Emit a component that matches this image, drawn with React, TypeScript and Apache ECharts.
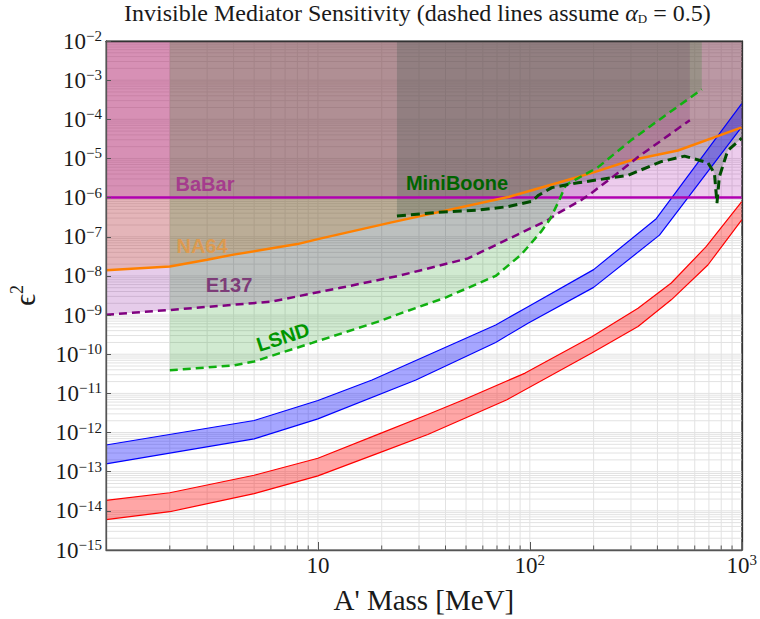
import React, { useEffect, useRef } from "react";
import * as echarts from "echarts";

const X_MIN = 1;
const X_MAX = 1000;
const Y_MIN = 1e-15;
const Y_MAX = 1e-2;

const titleText = "Invisible Mediator Sensitivity (dashed lines assume {a|α}{d|D} = 0.5)";
const xAxisName = "A' Mass [MeV]";
const yAxisName = "ϵ{s|2}";

// region boundary curves [mass MeV, eps^2]
const babar = [[1, 1e-6], [1000, 1e-6]];
const na64 = [[1, 1.4e-8], [2, 1.75e-8], [3, 2.6e-8], [4, 3.5e-8], [8, 6.5e-8], [10, 8.7e-8], [22, 2.3e-7], [80, 1.05e-6], [136, 2.4e-6], [200, 4.4e-6], [300, 9e-6], [500, 1.6e-5], [1000, 6.2e-5]];
const e137 = [[1, 1.02e-9], [2, 1.35e-9], [6, 2.2e-9], [12.6, 4.9e-9], [24, 1e-8], [51, 2.8e-8], [122, 2.7e-7], [136, 4e-7], [175, 8.7e-7], [195, 1.3e-6], [261, 4.3e-6], [325, 1.1e-5], [569, 9.5e-5]];
const lsnd = [[2, 3.9e-11], [4, 5.2e-11], [5, 6.5e-11], [6, 9e-11], [9.4, 1.95e-10], [19.4, 6.9e-10], [23.3, 1e-9], [40, 2.8e-9], [69, 1e-8], [91, 3.5e-8], [113, 1.35e-7], [124, 2.7e-7], [136, 7.5e-7], [148, 2.1e-6], [210, 6e-6], [300, 2.9e-5], [448, 1.4e-4], [648, 5.8e-4]];
const miniboone = [[23.6, 3.4e-7], [37, 4.2e-7], [57, 4.8e-7], [79, 5.9e-7], [102, 8e-7], [110, 1.15e-6], [127, 1.8e-6], [169, 2.4e-6], [290, 3.7e-6], [417, 8.3e-6], [537, 1.15e-5], [692, 7.8e-6], [743, 4.2e-6], [764, 7.2e-7], [784, 3.4e-6], [859, 1.6e-5], [1000, 3.3e-5]];

// sensitivity bands
const blueUpper = [[1, 4.8e-13], [5, 2.03e-12], [10, 6.6e-12], [18, 2.2e-11], [69, 5.6e-10], [98.5, 1.66e-9], [200, 1.45e-8], [395, 2.9e-7], [1000, 2.5e-4]];
const blueLower = [[1, 1.58e-13], [5, 6.9e-13], [10, 2.24e-12], [29, 2.2e-11], [69, 2.0e-10], [98.5, 6.3e-10], [200, 5.1e-9], [409, 1.1e-7], [1000, 6.4e-5]];
const redUpper = [[1, 1.86e-14], [2, 2.9e-14], [5, 8.1e-14], [10, 2.2e-13], [20, 9.8e-13], [33, 2.9e-12], [48.7, 6.9e-12], [95, 3.3e-11], [196, 2.8e-10], [324, 1.5e-9], [465, 6.6e-9], [679, 5.6e-8], [1000, 7.9e-7]];
const redLower = [[1, 6e-15], [2, 9.5e-15], [5, 2.75e-14], [10, 7.8e-14], [20, 3.2e-13], [33, 8.9e-13], [78, 6.9e-12], [196, 1.07e-10], [324, 5.1e-10], [465, 2.45e-9], [692, 1.9e-8], [1000, 2.7e-7]];

// grid line positions
const xGridValues = [2, 3, 4, 5, 6, 7, 8, 9, 10, 20, 30, 40, 50, 60, 70, 80, 90, 100, 200, 300, 400, 500, 600, 700, 800, 900];
const yDecades = [-15, -14, -13, -12, -11, -10, -9, -8, -7, -6, -5, -4, -3];
const yMantissas = [1, 2, 3, 4, 5, 6, 7, 8, 9];

const regionLabels = [
  { text: "BaBar", x: 205, y: 184, color: "#a53c8d", rot: 0 },
  { text: "NA64", x: 202, y: 246, color: "#dc9a50", rot: 0 },
  { text: "E137", x: 229, y: 285, color: "#7d3c78", rot: 0 },
  { text: "LSND", x: 283, y: 337, color: "#009600", rot: 18 },
  { text: "MiniBoone", x: 457, y: 183, color: "#006400", rot: 0 },
];

const SERIF = "Liberation Serif";
const SANS = "Liberation Sans";

function isDecade(v: number) {
  const l = Math.log10(v);
  return Math.abs(l - Math.round(l)) < 1e-6;
}

function fillAbove(points: number[][], color: string, z: number) {
  return {
    type: "custom",
    coordinateSystem: "cartesian2d",
    silent: true,
    clip: true,
    z,
    data: [points[0]],
    encode: { x: 0, y: 1 },
    renderItem: (_params: any, api: any) => {
      const pts = points.map((p) => api.coord(p));
      const last = points[points.length - 1];
      pts.push(api.coord([last[0], Y_MAX]));
      pts.push(api.coord([points[0][0], Y_MAX]));
      return { type: "polygon", shape: { points: pts }, style: { fill: color } };
    },
  };
}

function bandFill(upper: number[][], lower: number[][], color: string, z: number) {
  return {
    type: "custom",
    coordinateSystem: "cartesian2d",
    silent: true,
    clip: true,
    z,
    data: [upper[0]],
    encode: { x: 0, y: 1 },
    renderItem: (_params: any, api: any) => {
      const pts = upper.map((p) => api.coord(p)).concat(lower.slice().reverse().map((p) => api.coord(p)));
      return { type: "polygon", shape: { points: pts }, style: { fill: color } };
    },
  };
}

function lineSeries(name: string, points: number[][], color: string, width: number, dash: any, z: number) {
  return {
    name,
    type: "line",
    data: points,
    symbol: "none",
    silent: true,
    z,
    lineStyle: { color, width, type: dash },
  };
}

export default function App() {
  const ref = useRef<HTMLDivElement>(null);
  useEffect(() => {
    document.body.style.margin = "0";
    if (!ref.current) return;
    const chart = echarts.init(ref.current, undefined, { renderer: "svg" });

    const yGridValues: number[] = [];
    yDecades.forEach((e) => yMantissas.forEach((m) => {
      if (!(e === -15 && m === 1)) yGridValues.push(m * Math.pow(10, e));
    }));

    const axisColor = "#555";
    const labelColor = "#1a1a1a";

    const option: any = {
      animation: false,
      backgroundColor: "#ffffff",
      textStyle: { fontFamily: SERIF },
      title: {
        text: titleText,
        left: 124,
        top: 1,
        padding: 0,
        textStyle: {
          fontFamily: SERIF,
          fontSize: 24,
          fontWeight: "normal",
          color: labelColor,
          lineHeight: 24,
          rich: {
            a: { fontFamily: SERIF, fontSize: 24, fontStyle: "italic", color: labelColor, lineHeight: 24 },
            d: { fontFamily: SERIF, fontSize: 13, color: labelColor, lineHeight: 16, verticalAlign: "bottom" },
          },
        },
      },
      grid: { left: 106, right: 16, top: 41, bottom: 68, show: true, borderColor: "#444", borderWidth: 1, backgroundColor: "transparent" },
      xAxis: [
        {
          type: "log",
          logBase: 10,
          min: X_MIN,
          max: X_MAX,
          interval: 1,
          z: 10,
          name: xAxisName,
          nameLocation: "middle",
          nameGap: 35,
          nameTextStyle: { fontFamily: SERIF, fontSize: 29, color: labelColor },
          axisLine: { show: true, onZero: false, lineStyle: { color: axisColor, width: 1.3 } },
          axisTick: { show: true, inside: true, length: 8, lineStyle: { color: axisColor } },
          splitLine: { show: false },
          axisLabel: {
            margin: 2,
            color: labelColor,
            fontFamily: SERIF,
            fontSize: 23,
            lineHeight: 27,
            formatter: (v: number) => {
              if (v < 1.5) return "";
              const e = Math.round(Math.log10(v));
              if (e === 1) return "10";
              return "10{t|" + e + "}";
            },
            rich: {
              t: { fontFamily: SERIF, fontSize: 15, lineHeight: 14, verticalAlign: "top", color: labelColor },
            },
          },
        },
        {
          type: "log", logBase: 10, min: X_MIN, max: X_MAX, interval: 1, position: "top", z: 10,
          axisLine: { show: true, onZero: false, lineStyle: { color: "#333", width: 1.3 } },
          axisTick: { show: false }, axisLabel: { show: false }, splitLine: { show: false },
        },
      ],
      yAxis: [
        {
          type: "log",
          logBase: 10,
          min: Y_MIN,
          max: Y_MAX,
          interval: 1,
          z: 10,
          name: yAxisName,
          nameLocation: "middle",
          nameGap: 66,
          nameTextStyle: {
            fontFamily: SERIF,
            fontSize: 30,
            lineHeight: 32,
            color: labelColor,
            rich: { s: { fontFamily: SERIF, fontSize: 18, lineHeight: 14, verticalAlign: "top", color: labelColor } },
          },
          axisLine: { show: true, onZero: false, lineStyle: { color: axisColor, width: 1.3 } },
          axisTick: { show: true, inside: true, length: 5, lineStyle: { color: axisColor } },
          splitLine: { show: false },
          axisLabel: {
            margin: 4,
            color: labelColor,
            fontFamily: SERIF,
            fontSize: 23,
            lineHeight: 25,
            formatter: (v: number) => {
              const e = Math.round(Math.log10(v));
              return "10{s|" + (e < 0 ? "−" : "") + Math.abs(e) + "}";
            },
            rich: {
              s: { fontFamily: SERIF, fontSize: 15, lineHeight: 12, verticalAlign: "top", color: labelColor },
            },
          },
        },
        {
          type: "log", logBase: 10, min: Y_MIN, max: Y_MAX, interval: 1, position: "right", z: 10,
          axisLine: { show: true, onZero: false, lineStyle: { color: "#333", width: 1.3 } },
          axisTick: { show: false }, axisLabel: { show: false }, splitLine: { show: false },
        },
      ],
      graphic: regionLabels.map((l) => ({
        type: "text",
        x: l.x,
        y: l.y,
        rotation: (l.rot * Math.PI) / 180,
        z: 100,
        silent: true,
        style: {
          text: l.text,
          fill: l.color,
          fontFamily: SANS,
          fontWeight: "bold",
          fontSize: 20,
          textAlign: "center",
          textVerticalAlign: "middle",
          verticalAlign: "middle",
        },
      })),
      series: [
        {
          type: "custom",
          coordinateSystem: "cartesian2d",
          silent: true,
          z: 0,
          data: xGridValues.map((v) => [v, Y_MIN]),
          encode: { x: 0, y: 1 },
          renderItem: (params: any, api: any) => {
            const v = api.value(0);
            const p = api.coord([v, Y_MIN]);
            const cs = params.coordSys;
            const children: any[] = [
              { type: "line", shape: { x1: p[0], y1: cs.y, x2: p[0], y2: cs.y + cs.height }, style: { stroke: "#e2e2e2", lineWidth: 1 } },
            ];
            if (!isDecade(v)) {
              children.push({ type: "line", shape: { x1: p[0], y1: cs.y + cs.height, x2: p[0], y2: cs.y + cs.height - 4.5 }, style: { stroke: axisColor, lineWidth: 1 } });
            }
            return { type: "group", children };
          },
        },
        {
          type: "custom",
          coordinateSystem: "cartesian2d",
          silent: true,
          z: 0,
          data: yGridValues.map((v) => [X_MIN, v]),
          encode: { x: 0, y: 1 },
          renderItem: (params: any, api: any) => {
            const v = api.value(1);
            const p = api.coord([X_MIN, v]);
            const cs = params.coordSys;
            return { type: "line", shape: { x1: cs.x, y1: p[1], x2: cs.x + cs.width, y2: p[1] }, style: { stroke: "#e2e2e2", lineWidth: 1 } };
          },
        },
        fillAbove(e137, "rgba(130,0,150,0.2)", 1),
        fillAbove(na64, "rgba(225,115,45,0.26)", 1),
        fillAbove(babar, "rgba(165,0,165,0.2)", 1),
        fillAbove(lsnd, "rgba(0,140,0,0.18)", 1),
        fillAbove(miniboone, "rgba(50,80,70,0.24)", 1),
        bandFill(blueUpper, blueLower, "rgba(0,0,255,0.35)", 2),
        bandFill(redUpper, redLower, "rgba(255,0,0,0.35)", 2),
        lineSeries("blueUpper", blueUpper, "#0000ff", 1.2, "solid", 3),
        lineSeries("blueLower", blueLower, "#0000ff", 1.2, "solid", 3),
        lineSeries("redUpper", redUpper, "#ff0000", 1.2, "solid", 3),
        lineSeries("redLower", redLower, "#ff0000", 1.2, "solid", 3),
        lineSeries("BaBar", babar, "#b000b0", 2.5, "solid", 4),
        lineSeries("NA64", na64, "#ff8000", 2.5, "solid", 4),
        lineSeries("E137", e137, "#800080", 2.5, [8, 5], 4),
        lineSeries("LSND", lsnd, "#10b010", 2.5, [8, 5], 4),
        lineSeries("MiniBoone", miniboone, "#004d00", 3, [9, 5], 4),
      ],
    };

    chart.setOption(option);
    return () => chart.dispose();
  }, []);

  return <div ref={ref} style={{ width: 760, height: 619 }} />;
}
